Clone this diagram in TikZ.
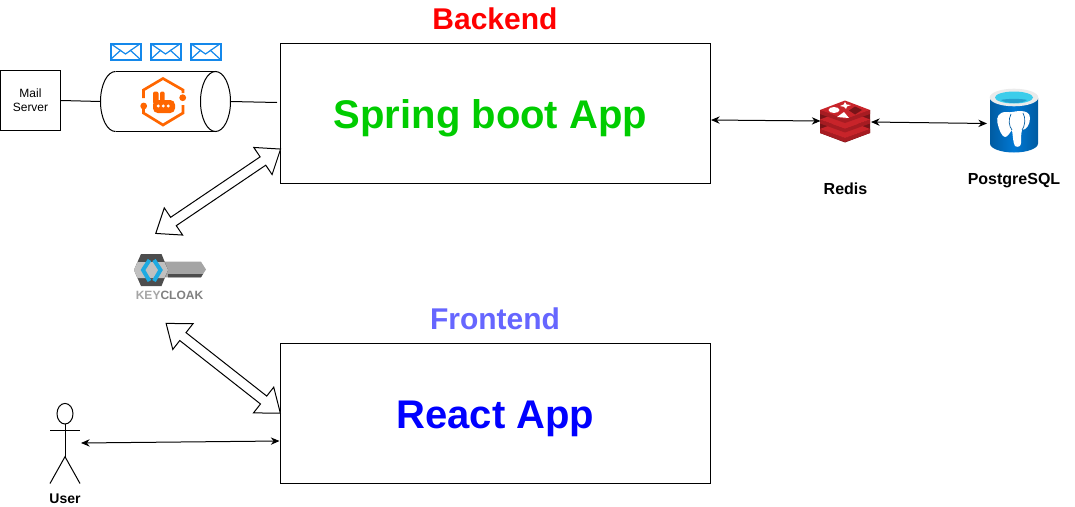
\documentclass[tikz,border=0pt]{standalone}
\usepackage{fontspec}
\setmainfont{Liberation Sans}
\usetikzlibrary{arrows.meta,shapes.arrows}
\definecolor{spring_green}{RGB}{0,204,0}
\definecolor{react_blue}{RGB}{0,0,255}
\definecolor{front_violet}{RGB}{102,102,255}
\definecolor{mail_blue}{RGB}{20,136,235}
\definecolor{rabbit_orange}{RGB}{255,102,0}
\definecolor{redis_top}{RGB}{200,36,42}
\definecolor{redis_side}{RGB}{166,28,34}
\definecolor{redis_dark}{RGB}{120,20,24}
\definecolor{pg_blue}{RGB}{0,120,212}
\definecolor{pg_deep}{RGB}{0,91,161}
\definecolor{pg_cyan}{RGB}{60,205,235}
\definecolor{kc_dark}{RGB}{77,77,77}
\definecolor{kc_gray}{RGB}{165,165,165}
\definecolor{kc_blue}{RGB}{30,170,225}

\begin{document}
\begin{tikzpicture}[x=0.75pt, y=-0.75pt, line width=0.75pt,
      appbox/.style={draw, minimum width=322.5pt, minimum height=105pt, text height=25pt, text depth=2.3pt,
                  font=\fontsize{30}{36}\selectfont\bfseries},
      title/.style={font=\fontsize{22.5}{27}\selectfont\bfseries},
      caption/.style={font=\fontsize{12}{14}\selectfont\bfseries},
      thinarrow/.style={{Stealth[length=6.5pt,width=5.5pt]}-{Stealth[length=6.5pt,width=5.5pt]}},
      blockarrow/.style={draw, fill=white, double arrow, inner xsep=0pt, inner ysep=3.4pt,
                  double arrow head extend=8.5pt, double arrow tip angle=75}]
    \useasboundingbox (0,0) rectangle (1075,507);

    \node[appbox, text=spring_green] (spring) at (495.5,113.5) {Spring boot App\hspace{7.5pt}\mbox{}};
    \node[appbox, text=react_blue] (react) at (495.5,413.5) {React App};
    \node[title, text=red] (backend) at (495,19) {Backend};
    \node[title, text=front_violet] (frontend) at (495,319) {Frontend};

    \node[draw, minimum width=45pt, minimum height=45pt, align=center, inner sep=0pt,
          font=\fontsize{9}{10.5}\selectfont] (mail) at (30.5,100.5) {Mail\\Server};
    \draw (115.5,71.5) -- (215.5,71.5);
    \draw (115.5,131.5) -- (215.5,131.5);
    \draw (115.5,71.5) arc (270:90:15 and 30);
    \draw (215.5,101.5) ellipse (15 and 30);
    \coordinate (queue_l) at (100.5,101.5);
    \coordinate (queue_r) at (230.5,101.5);
    \coordinate (spring_in) at (277,102.5);
    \draw (mail.east) -- (queue_l);
    \draw (queue_r) -- (spring_in);

    \foreach \ex in {110,150,190} {
      \draw[mail_blue, line width=1.5pt] (\ex+.5,43.5) rectangle (\ex+30.5,59.5);
      \draw[mail_blue, line width=0.9pt] (\ex+.5,43.5) -- (\ex+15.5,54) -- (\ex+30.5,43.5);
      \draw[mail_blue, line width=0.9pt] (\ex+.5,59.5) -- (\ex+11,50);
      \draw[mail_blue, line width=0.9pt] (\ex+30.5,59.5) -- (\ex+20,50);
    }

    \draw[rabbit_orange, line width=2pt] (143.5,98) -- (143.5,90) -- (163,78.5) -- (183,90) -- (183,93);
    \draw[rabbit_orange, line width=2pt] (143.5,106) -- (143.5,113) -- (163,125) -- (183,113) -- (183,105);
    \fill[rabbit_orange] (143.7,106) circle (3.4) (182.7,97.7) circle (3.4);
    \fill[rabbit_orange, rounded corners=1.5pt] (153,91.5) rectangle (158.5,104);
    \fill[rabbit_orange, rounded corners=1.5pt] (160,91.5) rectangle (164.7,104);
    \fill[rabbit_orange, rounded corners=3.5pt] (153,100) rectangle (175,113);
    \foreach \dx in {158.3,163.3,168.3}
      \fill[white] (\dx,106) circle (1.6);

    \coordinate (kc_up) at (155.7,233.5);
    \coordinate (spring_kc) at (280.7,149);
    \coordinate (kc_down) at (166,323.3);
    \coordinate (react_kc) at (280.5,413.3);
    \path (kc_up) -- (spring_kc) node[midway, sloped, blockarrow, minimum height=113pt] (auth_back) {};
    \path (kc_down) -- (react_kc) node[midway, sloped, blockarrow, minimum height=109pt] (auth_front) {};

    \fill[kc_gray] (161,261.7) -- (201,261.7) -- (206,269.5) -- (201,277.3) -- (161,277.3) -- cycle;
    \fill[kc_dark] (168,274) -- (203,274) -- (201,277.3) -- (168,277.3) -- cycle;
    \fill[kc_dark] (134,270) -- (141,254) -- (161.5,254) -- (168,270) -- (161.5,286) -- (141,286) -- cycle;
    \fill[kc_gray!70] (134,270) -- (137.5,262) -- (164.5,262) -- (168,270) -- (164.5,278) -- (137.5,278) -- cycle;
    \draw[kc_blue, line width=3pt] (149.5,260) -- (143,270) -- (149.5,281);
    \draw[kc_blue, line width=3pt] (154,260) -- (160.5,270) -- (154,281);
    \node[inner sep=0pt, font=\fontsize{9}{11}\selectfont\bfseries] (keycloak) at (169.5,295)
      {\textcolor{kc_gray}{KEY}\textcolor{gray}{CLOAK}};

    \draw (65,413.7) ellipse (8 and 10.3);
    \draw (65,424) -- (65,456.7);
    \draw (50,430) -- (80,430);
    \draw (50,483.5) -- (65,456.7) -- (80,483.5);
    \node[font=\fontsize{10.5}{12}\selectfont\bfseries] (user) at (65,498.5) {User};
    \coordinate (user_r) at (81,443);
    \coordinate (react_l) at (279.5,441);
    \draw[thinarrow] (user_r) -- (react_l);

    \fill[redis_dark] (820,110) -- (870,110) -- (870,133) -- (845,142.5) -- (820,133) -- cycle;
    \foreach \ry in {19,9.5,0} {
      \fill[redis_side] (820,110+\ry) -- (845,119+\ry) -- (870,110+\ry) -- (870,114+\ry) -- (845,123+\ry) -- (820,114+\ry) -- cycle;
      \fill[redis_top] (820,110+\ry) -- (845,100.5+\ry) -- (870,110+\ry) -- (845,119+\ry) -- cycle;
    }
    \fill[white] (834,110) ellipse (5.5 and 3);
    \fill[white] (845,102) -- (846.5,104.5) -- (851,105) -- (847,106.5) -- (846,109) -- (844,106.8) -- (840,106) -- (843.7,104.5) -- cycle;
    \fill[white] (844,112) -- (849,118) -- (837,117) -- cycle;
    \fill[redis_dark] (855,106.5) -- (862,110) -- (855,114.5) -- (849,110.5) -- cycle;
    \node[caption] (redis) at (845.5,188.5) {Redis};
    \coordinate (spring_r) at (711,120);
    \coordinate (redis_l) at (820.5,121);
    \coordinate (redis_r) at (871,122);
    \coordinate (pg_l) at (987,123.5);
    \draw[thinarrow] (spring_r) -- (redis_l);
    \draw[thinarrow] (redis_r) -- (pg_l);

    \shade[left color=pg_deep, right color=pg_deep, middle color=pg_blue]
      (990,98) -- (990,143.5) arc (180:0:24 and 9) -- (1038,98) -- cycle;
    \fill[black!8] (1014,97.5) ellipse (24.3 and 8.8);
    \fill[pg_cyan] (1014,97.5) ellipse (19 and 6);
    \fill[pg_cyan!60!pg_deep] (1001,100) .. controls (1006,98.5) and (1022,98.5) .. (1027,100) .. controls (1022,104) and (1006,104) .. (1001,100) -- cycle;
    \fill[white] (1006,112) .. controls (999,112) and (996,117) .. (997.5,123) .. controls (999,130) and (1002,137) .. (1005,137) .. controls (1008,137) and (1010,132) .. (1012,130) .. controls (1013,136) and (1013,143) .. (1015,146) .. controls (1018,148) and (1021,146) .. (1021,143) .. controls (1021,138) and (1021,134) .. (1022,130) .. controls (1026,130) and (1030,125) .. (1030,118) .. controls (1030,113) and (1026,111) .. (1020,111) .. controls (1015,111) and (1011,113) .. (1006,112) -- cycle;
    \draw[pg_deep, line width=0.5pt] (1011,114) .. controls (1008,120) and (1009,126) .. (1012,130);
    \draw[pg_deep, line width=0.5pt] (1023,113) .. controls (1026,118) and (1025,126) .. (1022,130);
    \node[caption] (postgres) at (1014,181) {PostgreSQL};
  \end{tikzpicture}
\end{document}
